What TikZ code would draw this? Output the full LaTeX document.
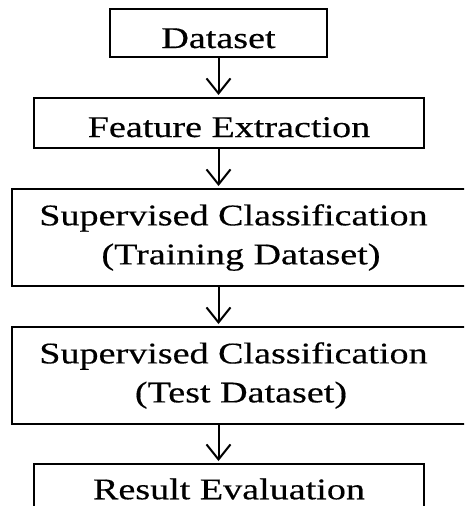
\documentclass[tikz,border=0pt]{standalone}
\usepackage{fontspec}
\setmainfont{Liberation Serif}[FakeStretch=1.27,FakeBold=0.4]
\usepackage{tikz}
\usetikzlibrary{arrows.meta,positioning,calc}

\begin{document}
\begin{tikzpicture}[x=1pt,y=-1pt,
  box/.style={draw,line width=2pt,inner sep=0pt,align=center,font=\fontsize{30}{39}\selectfont},
  arr/.style={line width=2pt,shorten >=2pt,-{Straight Barb[length=15pt,width=24pt]}}]
\useasboundingbox (0,0) rectangle (464,506);
\clip (0,0) rectangle (464,506);
% Boxes
\node[box,minimum width=217pt,minimum height=48pt,text height=30pt,text depth=0pt] (data) at (218.5,33) {Dataset};
\node[box,minimum width=390pt,minimum height=50pt,text height=28pt,text depth=0pt] (feat) at (229,123) {Feature Extraction};
\node[box,minimum width=458pt,minimum height=97pt] (train) at (241,237.5) {Supervised Classification\hspace*{15pt}\\(Training Dataset)};
\node[box,minimum width=458pt,minimum height=97pt] (test) at (241,375.5) {Supervised Classification\hspace*{15pt}\\(Test Dataset)};
\node[box,minimum width=390pt,minimum height=50pt] (eval) at (229,489) {Result Evaluation};
% Arrows
\draw[arr] (data.south) -- (data.south |- feat.north);
\draw[arr] (data.south |- feat.south) -- (data.south |- train.north);
\draw[arr] (data.south |- train.south) -- (data.south |- test.north);
\draw[arr] (data.south |- test.south) -- (data.south |- eval.north);
\end{tikzpicture}
\end{document}
